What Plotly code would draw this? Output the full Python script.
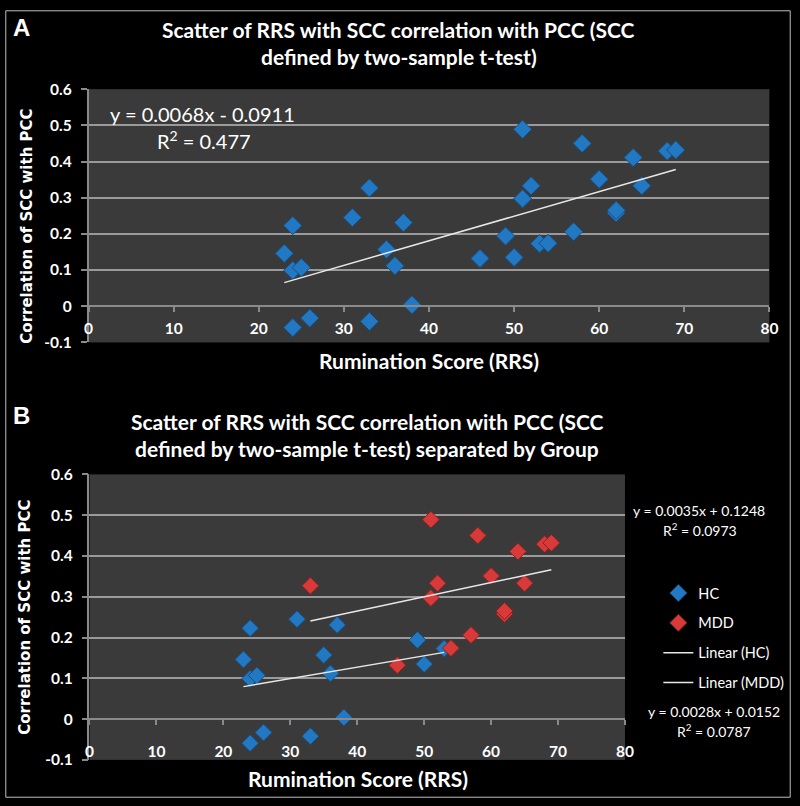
import plotly.graph_objects as go

W, H = 800, 806

# ---------------- data ----------------
hc_x = [23, 24, 24, 25, 24, 26, 31, 33, 35, 36, 37, 38, 49, 50, 53]
hc_y = [0.146, 0.223, 0.099, 0.107, -0.059, -0.033, 0.245, -0.042, 0.157, 0.112, 0.231, 0.004, 0.194, 0.135, 0.173]
mdd_x = [33, 46, 51, 51, 52, 54, 57, 58, 60, 62, 62, 64, 65, 68, 69]
mdd_y = [0.327, 0.132, 0.489, 0.297, 0.333, 0.174, 0.206, 0.450, 0.351, 0.258, 0.265, 0.411, 0.333, 0.429, 0.432]

fit_all = {"slope": 0.0068, "intercept": -0.0911, "r2": "0.477"}
fit_hc = {"slope": 0.0028, "intercept": 0.0152, "r2": "0.0787"}
fit_mdd = {"slope": 0.0035, "intercept": 0.1248, "r2": "0.0973"}

x_ticks = [0, 10, 20, 30, 40, 50, 60, 70, 80]
y_ticks = [-0.1, 0, 0.1, 0.2, 0.3, 0.4, 0.5, 0.6]
y_tick_text = ["-0.1", "0", "0.1", "0.2", "0.3", "0.4", "0.5", "0.6"]

title_a = ["Scatter of RRS with SCC correlation with PCC (SCC", "defined by two-sample t-test)"]
title_b = ["Scatter of RRS with SCC correlation with PCC (SCC", "defined by two-sample t-test) separated by Group"]
x_title = "Rumination Score (RRS)"
y_title = "Correlation of SCC with PCC"

# ---------------- style ----------------
FONT = "Lato, Carlito, 'Liberation Sans Narrow', sans-serif"
BLUE = "#2278c2"
BLUE_EDGE = "#174f80"
RED = "#d83a3a"
RED_EDGE = "#8c2222"
PLOT_BG = "#3a3a3a"
GRID = "#9a9a9a"
AXIS = "#8a8a8a"


def px_x(p):
    return p / W


def px_y(p):
    return 1 - p / H


def fit_line(xs, fit):
    lo, hi = min(xs), max(xs)
    return [lo, hi], [fit["slope"] * lo + fit["intercept"], fit["slope"] * hi + fit["intercept"]]


def eq_text(fit):
    sign = "-" if fit["intercept"] < 0 else "+"
    return f"y = {fit['slope']:.4f}x {sign} {abs(fit['intercept']):.4f}"


all_x = hc_x + mdd_x
all_y = hc_y + mdd_y

fig = go.Figure()

# Panel A
fig.add_trace(go.Scatter(x=all_x, y=all_y, mode="markers", xaxis="x", yaxis="y",
                         marker=dict(symbol="diamond", size=14, color=BLUE,
                                     line=dict(color=BLUE_EDGE, width=1)),
                         showlegend=False))
lx, ly = fit_line(all_x, fit_all)
fig.add_trace(go.Scatter(x=lx, y=ly, mode="lines", xaxis="x", yaxis="y",
                         line=dict(color="#e8e8e8", width=1.5), showlegend=False))

# Panel B
fig.add_trace(go.Scatter(x=hc_x, y=hc_y, mode="markers", xaxis="x2", yaxis="y2", name="HC",
                         legendgroup="a",
                         marker=dict(symbol="diamond", size=13, color=BLUE,
                                     line=dict(color=BLUE_EDGE, width=1))))
fig.add_trace(go.Scatter(x=mdd_x, y=mdd_y, mode="markers", xaxis="x2", yaxis="y2", name="MDD",
                         legendgroup="b",
                         marker=dict(symbol="diamond", size=13, color=RED,
                                     line=dict(color=RED_EDGE, width=1))))
lx, ly = fit_line(hc_x, fit_hc)
fig.add_trace(go.Scatter(x=lx, y=ly, mode="lines", xaxis="x2", yaxis="y2", name="Linear (HC)",
                         legendgroup="c", line=dict(color="#e8e8e8", width=1.5)))
lx, ly = fit_line(mdd_x, fit_mdd)
fig.add_trace(go.Scatter(x=lx, y=ly, mode="lines", xaxis="x2", yaxis="y2", name="Linear (MDD)",
                         legendgroup="d", line=dict(color="#e8e8e8", width=1.5)))

# domains (pixels)
A = dict(left=85, right=778, top=81, bottom=340)
B = dict(left=86, right=631, top=475, bottom=767)


def zero_pos(d):
    frac = (0 - y_ticks[0]) / (y_ticks[-1] - y_ticks[0])
    return px_y(d["bottom"]) + frac * (px_y(d["top"]) - px_y(d["bottom"]))


tickfont = dict(family=FONT, size=15.5, color="white", weight="bold")


def xaxis_cfg(d, standoff):
    return dict(domain=[px_x(d["left"]), px_x(d["right"])], range=[0, 80],
                tickvals=x_ticks, ticktext=[str(t) for t in x_ticks],
                showgrid=False, zeroline=False, showline=True, linecolor=AXIS, linewidth=1.5,
                ticks="outside", ticklen=5, tickcolor=AXIS, tickwidth=1.5,
                tickfont=tickfont, anchor="free", position=zero_pos(d),
                ticklabelstandoff=standoff, fixedrange=True)


def yaxis_cfg(d, xref):
    return dict(domain=[px_y(d["bottom"]), px_y(d["top"])], range=[-0.1, 0.6],
                tickvals=y_ticks, ticktext=y_tick_text,
                showgrid=True, gridcolor=GRID, gridwidth=1.5, zeroline=False,
                showline=True, linecolor=AXIS, linewidth=1.5,
                ticks="outside", ticklen=6, tickcolor=AXIS, tickwidth=1.5,
                tickfont=tickfont, anchor=xref, ticklabelstandoff=6, fixedrange=True)


annotations = []


def add_text(text, x, y, size, family=FONT, bold=False, angle=0):
    t = f"<b>{text}</b>" if bold else text
    annotations.append(dict(text=t, x=px_x(x), y=px_y(y), xref="paper", yref="paper",
                            xanchor="center", yanchor="middle", showarrow=False,
                            textangle=angle, font=dict(family=family, size=size, color="white")))


# panel letters
add_text("A", 17, 18, 24, family="'Liberation Sans', Arial, sans-serif", bold=True)
add_text("B", 17, 415, 24, family="'Liberation Sans', Arial, sans-serif", bold=True)
# titles
add_text(title_a[0], 401, 20, 21, bold=True)
add_text(title_a[1], 401, 48, 21, bold=True)
add_text(title_b[0], 369, 421, 21, bold=True)
add_text(title_b[1], 368, 449, 21, bold=True)
# axis titles
add_text(x_title, 432, 358, 21, bold=True)
add_text(x_title, 359, 786, 21, bold=True)
add_text(y_title, 22, 221, 15, family="'DejaVu Sans', Verdana, sans-serif", bold=True, angle=-90)
add_text(y_title, 20, 621, 15, family="'DejaVu Sans', Verdana, sans-serif", bold=True, angle=-90)
# equations
add_text(eq_text(fit_all), 201, 106, 20)
add_text(f"R<sup>2</sup> = {fit_all['r2']}", 203, 133, 20)
add_text(eq_text(fit_mdd), 706, 512, 14)
add_text(f"R<sup>2</sup> = {fit_mdd['r2']}", 707, 531, 14)
add_text(eq_text(fit_hc), 722, 718, 14)
add_text(f"R<sup>2</sup> = {fit_hc['r2']}", 722, 737, 14)

fig.update_layout(
    width=W, height=H,
    margin=dict(l=0, r=0, t=0, b=0),
    paper_bgcolor="black", plot_bgcolor=PLOT_BG,
    xaxis=xaxis_cfg(A, 3), yaxis=yaxis_cfg(A, "x"),
    xaxis2=xaxis_cfg(B, 14), yaxis2=yaxis_cfg(B, "x2"),
    annotations=annotations,
    showlegend=True,
    legend=dict(x=px_x(665), y=px_y(580), xanchor="left", yanchor="top",
                bgcolor="rgba(0,0,0,0)", font=dict(family=FONT, size=14.5, color="white"),
                tracegroupgap=8, itemwidth=30),
    shapes=[dict(type="rect", xref="paper", yref="paper", x0=0.001, y0=0.001, x1=0.999, y1=0.999,
                 line=dict(color="#bdbdbd", width=1))],
)

fig.write_html("out.html", config={"displayModeBar": False},
               post_script="document.body.style.margin='0px';document.body.style.padding='0px';")
